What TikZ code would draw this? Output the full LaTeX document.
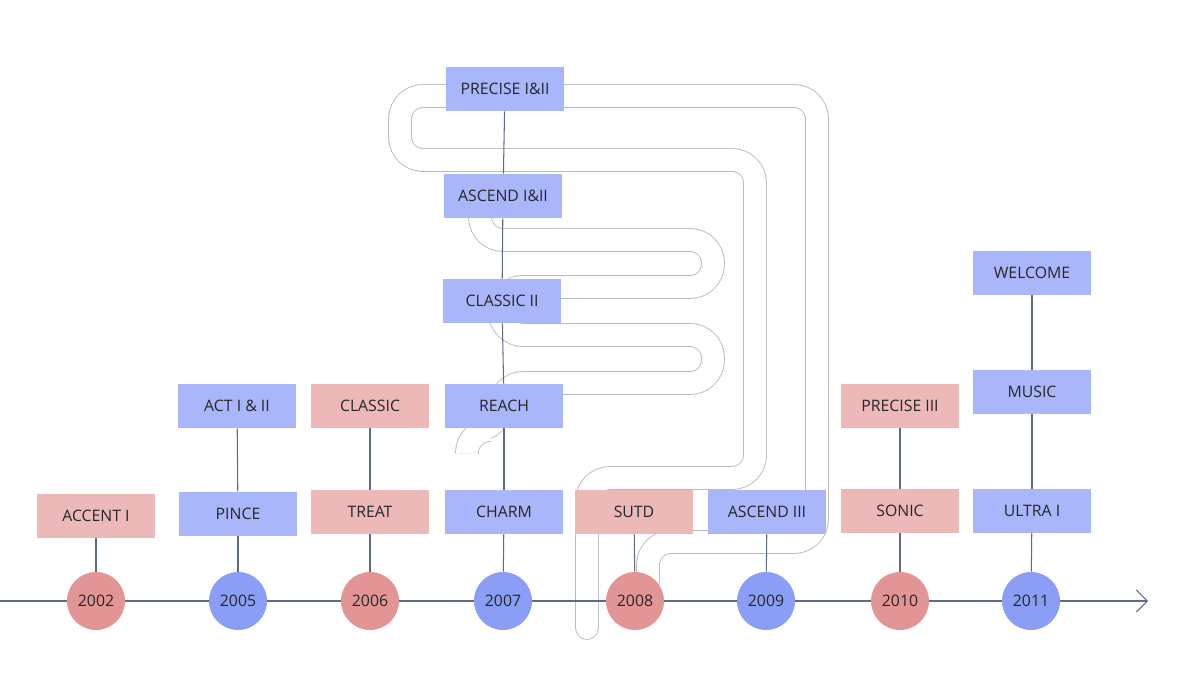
\documentclass[tikz,border=0pt]{standalone}
\usepackage{fontspec}
\setmainfont{Open Sans}
\usetikzlibrary{arrows.meta,positioning}
\definecolor{pinkbox}{HTML}{ECB8B8}
\definecolor{bluebox}{HTML}{AAB6FA}
\definecolor{pinkdot}{HTML}{E39494}
\definecolor{bluedot}{HTML}{8A9EF5}
\definecolor{axisline}{HTML}{5F6B85}
\tikzset{
  box/.style={minimum width=2.36cm, minimum height=0.88cm, inner sep=0pt, font=\fontsize{9}{10}\selectfont, text=black!85},
  pbox/.style={box, fill=pinkbox},
  bbox/.style={box, fill=bluebox},
  year/.style={circle, minimum size=1.16cm, inner sep=0pt, font=\fontsize{9}{10}\selectfont, text=black!85},
  link/.style={draw=axisline, line width=0.6pt},
  tube/.style={draw=gray!55, line width=0.5pt, double=white, double distance=0.44cm, line cap=round, rounded corners=0.46cm}
}
\begin{document}
\begin{tikzpicture}[x=0.02cm,y=-0.02cm]
\useasboundingbox (0,0) rectangle (1200,675);
% gut outline behind everything
\draw[tube] (648,582) -- (648,542) -- (817,542) -- (817,96) -- (400,96) -- (400,160) -- (755,160) -- (755,478) -- (587,478) -- (587,628);
\draw[tube] (480,218) -- (480,240) -- (713,240) -- (713,287) -- (500,287) -- (500,335) -- (713,335) -- (713,383) -- (500,383) -- (500,430) -- (467,430) -- (467,452);
% timeline
\coordinate (start) at (0,601);
\coordinate (end) at (1148,601);
\draw[link, -{Straight Barb[length=2.2mm,width=4.4mm]}] (start) -- (end);
% years
\foreach \yr/\px/\col in {2002/96/pinkdot,2005/238/bluedot,2006/370/pinkdot,2007/503/bluedot,2008/635/pinkdot,2009/766/bluedot,2010/900/pinkdot,2011/1031/bluedot}
  \node[year, fill=\col] (y\yr) at (\px,601) {\yr};
% products
\node[pbox] (accent) at (96,516) {ACCENT I};
\node[bbox] (pince) at (238,514) {PINCE};
\node[bbox] (act) at (237,406) {ACT I \& II};
\node[pbox] (treat) at (370,512) {TREAT};
\node[pbox] (classic) at (370,406) {CLASSIC};
\node[bbox] (charm) at (504,512) {CHARM};
\node[bbox] (reach) at (504,406) {REACH};
\node[bbox] (classicii) at (502,301) {CLASSIC II};
\node[bbox] (ascend) at (503,196) {ASCEND I\&II};
\node[bbox] (precise) at (505,89) {PRECISE I\&II};
\node[pbox] (sutd) at (634,512) {SUTD};
\node[bbox] (ascendiii) at (767,512) {ASCEND III};
\node[pbox] (sonic) at (900,511) {SONIC};
\node[pbox] (preciseiii) at (900,406) {PRECISE III};
\node[bbox] (ultra) at (1032,511) {ULTRA I};
\node[bbox] (music) at (1032,392) {MUSIC};
\node[bbox] (welcome) at (1032,273) {WELCOME};
% links
\foreach \a/\b in {y2002/accent,y2005/pince,pince/act,y2006/treat,treat/classic,y2007/charm,charm/reach,reach/classicii,classicii/ascend,ascend/precise,y2008/sutd,y2009/ascendiii,y2010/sonic,sonic/preciseiii,y2011/ultra,ultra/music,music/welcome}
  \draw[link] (\a) -- (\b);
\end{tikzpicture}
\end{document}
